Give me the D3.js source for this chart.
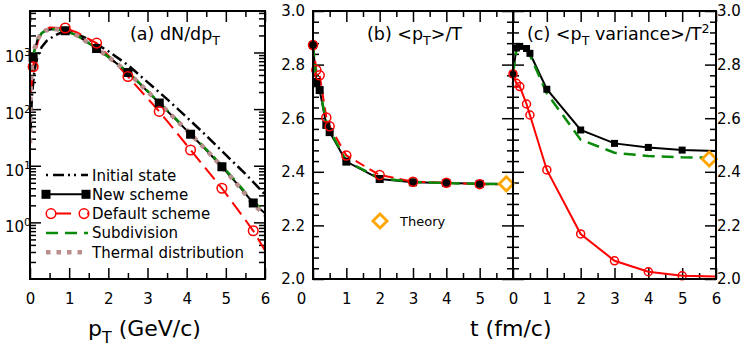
<!DOCTYPE html>
<html>
<head>
<meta charset="utf-8">
<script src="https://cdn.jsdelivr.net/npm/d3@7"></script>
<style>
  body { margin: 0; background: #fff; }
  svg { font-family: "DejaVu Sans", sans-serif; }
</style>
</head>
<body>
<div id="chart"></div>
<script>
  // ---- panel (a): dN/dpT spectra ----
  const ptInit = [0.01, 0.05, 0.1, 0.15, 0.2, 0.3, 0.43, 0.64, 0.8, 1.0, 1.2, 1.5, 2.0, 2.5, 3.0, 3.5, 4.0, 4.5, 5.0, 5.5, 6.0];
  const initState = [40, 170, 400, 650, 880, 1250, 1620, 2000, 2250, 2350, 2100, 1700, 1050, 600, 300, 150, 72, 34, 15.5, 7.2, 3.1];

  const ptNew = [0.08, 0.1, 0.2, 0.3, 0.4, 0.6, 0.9, 1.2, 1.7, 2.1, 2.5, 2.9, 3.3, 3.7, 4.1, 4.5, 4.9, 5.3, 5.7, 6.0];
  const newScheme = [820, 1000, 1750, 2200, 2450, 2600, 2420, 2000, 1175, 740, 444, 240, 128, 68, 36, 19, 9.6, 4.7, 2.2, 1.45];
  const subdivision = [800, 1000, 1750, 2200, 2450, 2600, 2430, 2000, 1190, 750, 450, 245, 130, 70, 37, 19.5, 10, 4.9, 2.3, 1.6];

  const ptDef = [0.02, 0.08, 0.15, 0.2, 0.3, 0.5, 0.9, 1.2, 1.7, 2.1, 2.5, 2.9, 3.3, 3.7, 4.1, 4.5, 4.9, 5.3, 5.7, 6.0];
  const defaultScheme = [200, 560, 1100, 1550, 2250, 2750, 2700, 2250, 1465, 745, 377, 185, 91, 42, 19, 8.7, 4, 1.7, 0.71, 0.32];

  const ptTherm = [0.002, 0.008, 0.02, 0.05, 0.1, 0.2, 0.3, 0.4, 0.6, 0.9, 1.2, 1.7, 2.1, 2.5, 2.9, 3.3, 3.7, 4.1, 4.5, 4.9, 5.3, 5.7, 6.0];
  const thermal = [25, 90, 280, 650, 1100, 1750, 2200, 2450, 2600, 2420, 2000, 1175, 740, 444, 240, 128, 68, 36, 19, 9.6, 4.6, 2.1, 1.35];

  // pT bins that carry a marker
  const markPt = [0.08, 0.9, 1.7, 2.5, 3.3, 4.1, 4.9, 5.7];

  // ---- panels (b) and (c): time evolution ----
  const tGrid = [0, 0.1, 0.2, 0.4, 0.5, 1, 2, 3, 4, 5, 6];
  const meanNew = [2.873, 2.735, 2.705, 2.575, 2.548, 2.438, 2.373, 2.361, 2.358, 2.355, 2.354];
  const meanDef = [2.873, 2.78, 2.76, 2.603, 2.57, 2.461, 2.388, 2.363, 2.359, 2.354, 2.353];
  const meanSub = [2.873, 2.75, 2.71, 2.585, 2.555, 2.44, 2.376, 2.362, 2.358, 2.355, 2.354];
  const varNew = [2.765, 2.862, 2.868, 2.86, 2.842, 2.708, 2.556, 2.506, 2.491, 2.481, 2.478];
  const varDef = [2.765, 2.73, 2.718, 2.653, 2.612, 2.407, 2.168, 2.068, 2.027, 2.012, 2.009];
  const varSub = [2.765, 2.855, 2.873, 2.86, 2.835, 2.693, 2.52, 2.471, 2.459, 2.454, 2.452];

  const theoryT = 5.8;
  const theoryMean = 2.355;
  const theoryVar = 2.448;

  const xTicks = [0, 1, 2, 3, 4, 5, 6];
  const xMinor = [0.5, 1.5, 2.5, 3.5, 4.5, 5.5];
  const yTicks = [2.0, 2.2, 2.4, 2.6, 2.8, 3.0];
  const logTicks = [1, 10, 100, 1000];

  const legendLabels = ["Initial state", "New scheme", "Default scheme", "Subdivision", "Thermal distribution"];

  // ---- layout ----
  const width = 747, height = 354;
  const yTop = 11, yBot = 279;
  const green = "#0a8a0a", rosy = "#bc8f8f", orange = "#ffa500";

  const xA = d3.scaleLinear().domain([0, 6]).range([30, 265]);
  const yA = d3.scaleLog().domain([0.1, 5400]).range([yBot, yTop]);
  const xB = d3.scaleLinear().domain([0, 6]).range([313, 513]);
  const xC = d3.scaleLinear().domain([0, 6]).range([513, 716]);
  const yV = d3.scaleLinear().domain([2.0, 3.0]).range([yBot, yTop]);

  const svg = d3.select("#chart").append("svg")
    .attr("width", width)
    .attr("height", height);

  const defs = svg.append("defs");
  [["clipA", xA], ["clipB", xB], ["clipC", xC]].forEach(([id, x]) => {
    defs.append("clipPath").attr("id", id).append("rect")
      .attr("x", x.range()[0]).attr("y", yTop)
      .attr("width", x.range()[1] - x.range()[0]).attr("height", yBot - yTop);
  });

  // draw an axis with inward ticks
  function axis(ax, tr, fontSize) {
    const g = svg.append("g").attr("transform", tr).call(ax);
    g.attr("font-family", null).attr("font-size", fontSize || 15);
    g.select(".domain").remove();
    g.selectAll(".tick line").attr("stroke", "#000").attr("stroke-width", 1.5);
    g.selectAll(".tick text").attr("fill", "#000");
    return g;
  }

  function frame(x, y) {
    svg.append("rect")
      .attr("x", x.range()[0]).attr("y", y.range()[1])
      .attr("width", x.range()[1] - x.range()[0])
      .attr("height", y.range()[0] - y.range()[1])
      .attr("fill", "none").attr("stroke", "#000").attr("stroke-width", 2);
  }

  function richText(x, y, parts, size) {
    const t = svg.append("text").attr("x", x).attr("y", y).attr("font-size", size);
    let shift = 0;
    parts.forEach(([s, mode]) => {
      const want = mode === "sub" ? size * 0.3 : mode === "sup" ? -size * 0.42 : 0;
      t.append("tspan")
        .attr("dy", want - shift)
        .attr("font-size", mode ? size * 0.72 : size)
        .text(s);
      shift = want;
    });
    return t;
  }

  // ---- axes panel (a) ----
  const logMinor = [];
  [0.1, 1, 10, 100, 1000].forEach(d => {
    for (let k = 2; k <= 9; k++) if (d * k < 5400) logMinor.push(d * k);
  });

  axis(d3.axisBottom(xA).tickValues(xTicks).tickSize(-11).tickPadding(14).tickFormat(d3.format("d")), `translate(0,${yBot})`);
  axis(d3.axisBottom(xA).tickValues(xMinor).tickSize(-6).tickFormat(""), `translate(0,${yBot})`);
  axis(d3.axisTop(xA).tickValues(xTicks).tickSize(-11).tickFormat(""), `translate(0,${yTop})`);
  axis(d3.axisTop(xA).tickValues(xMinor).tickSize(-6).tickFormat(""), `translate(0,${yTop})`);
  axis(d3.axisLeft(yA).tickValues(logTicks).tickSize(-11).tickFormat(""), `translate(${xA.range()[0]},0)`);
  axis(d3.axisLeft(yA).tickValues(logMinor).tickSize(-6).tickFormat(""), `translate(${xA.range()[0]},0)`);
  axis(d3.axisRight(yA).tickValues(logTicks).tickSize(-11).tickFormat(""), `translate(${xA.range()[1]},0)`);
  axis(d3.axisRight(yA).tickValues(logMinor).tickSize(-6).tickFormat(""), `translate(${xA.range()[1]},0)`);

  logTicks.forEach(v => {
    richText(5, yA(v) + 10, [["10"], [String(Math.round(Math.log10(v))), "sup"]], 15);
  });

  // ---- axes panels (b), (c) ----
  const vMinor = d3.range(2.0, 3.0001, 0.04).filter(v => Math.abs(v * 5 - Math.round(v * 5)) > 1e-6);
  [[xB, true], [xC, false]].forEach(([x, isB]) => {
    const gb = axis(d3.axisBottom(x).tickValues(isB ? xTicks.slice(0, 6) : xTicks).tickSize(-11).tickPadding(14).tickFormat(d3.format("d")), `translate(0,${yBot})`);
    if (isB) gb.selectAll(".tick text").filter(d => d === 0).attr("dx", -12);
    axis(d3.axisBottom(x).tickValues(xMinor).tickSize(-6).tickFormat(""), `translate(0,${yBot})`);
    axis(d3.axisTop(x).tickValues(xTicks).tickSize(-11).tickFormat(""), `translate(0,${yTop})`);
    axis(d3.axisTop(x).tickValues(xMinor).tickSize(-6).tickFormat(""), `translate(0,${yTop})`);
    axis(d3.axisLeft(yV).tickValues(yTicks).tickSize(-11).tickPadding(8).tickFormat(isB ? d3.format(".1f") : ""), `translate(${x.range()[0]},0)`);
    axis(d3.axisLeft(yV).tickValues(vMinor).tickSize(-6).tickFormat(""), `translate(${x.range()[0]},0)`);
    axis(d3.axisRight(yV).tickValues(yTicks).tickSize(-11).tickPadding(1).tickFormat(isB ? "" : d3.format(".1f")), `translate(${x.range()[1]},0)`);
    axis(d3.axisRight(yV).tickValues(vMinor).tickSize(-6).tickFormat(""), `translate(${x.range()[1]},0)`);
  });

  // ---- curves ----
  function curve(clip, xs, ys, x, y, style) {
    const pts = xs.map((d, i) => [d, ys[i]]);
    const line = d3.line().x(d => x(d[0])).y(d => y(d[1]));
    svg.append("path")
      .datum(pts)
      .attr("clip-path", `url(#${clip})`)
      .attr("d", line)
      .attr("fill", "none")
      .attr("stroke", style.color)
      .attr("stroke-width", style.width)
      .attr("stroke-dasharray", style.dash || null)
      .attr("stroke-linecap", style.cap || "butt");
  }

  function squares(xs, ys, x, y, size) {
    svg.append("g").selectAll("rect")
      .data(xs.map((d, i) => [d, ys[i]]))
      .join("rect")
      .attr("x", d => x(d[0]) - size / 2)
      .attr("y", d => y(d[1]) - size / 2)
      .attr("width", size).attr("height", size)
      .attr("fill", "#000");
  }

  function circles(xs, ys, x, y, r) {
    svg.append("g").selectAll("circle")
      .data(xs.map((d, i) => [d, ys[i]]))
      .join("circle")
      .attr("cx", d => x(d[0]))
      .attr("cy", d => y(d[1]))
      .attr("r", r)
      .attr("fill", "none")
      .attr("stroke", "red")
      .attr("stroke-width", 1.5);
  }

  function diamond(cx, cy) {
    svg.append("rect")
      .attr("x", -5).attr("y", -5).attr("width", 10).attr("height", 10)
      .attr("transform", `translate(${cx},${cy}) rotate(45)`)
      .attr("fill", "#fff").attr("stroke", orange).attr("stroke-width", 2.8);
  }

  const styles = {
    init: { color: "#000", width: 2.5, dash: "11,4,2,4" },
    newS: { color: "#000", width: 2 },
    def: { color: "red", width: 2, dash: "15,7" },
    sub: { color: green, width: 2.5, dash: "12,7" },
    therm: { color: rosy, width: 4.5, dash: "4.5,6" }
  };

  // panel (a)
  curve("clipA", ptInit, initState, xA, yA, styles.init);
  curve("clipA", ptDef, defaultScheme, xA, yA, styles.def);
  curve("clipA", ptNew, newScheme, xA, yA, styles.newS);
  curve("clipA", ptNew, subdivision, xA, yA, styles.sub);
  curve("clipA", ptTherm, thermal, xA, yA, styles.therm);
  const markNew = markPt.map(p => newScheme[ptNew.indexOf(p)]);
  const markDef = markPt.map(p => defaultScheme[ptDef.indexOf(p)]);
  squares(markPt, markNew, xA, yA, 9);
  circles(markPt, markDef, xA, yA, 4.8);

  // panel (b)
  const tMark = tGrid.filter(t => t < 6);
  curve("clipB", tGrid, meanNew, xB, yV, styles.newS);
  curve("clipB", tGrid, meanDef, xB, yV, { color: "red", width: 2, dash: "10,6" });
  curve("clipB", tGrid, meanSub, xB, yV, styles.sub);
  squares(tMark, meanNew, xB, yV, 8);
  circles(tMark, meanDef, xB, yV, 4.5);
  diamond(xB(theoryT), yV(theoryMean));

  // panel (c)
  curve("clipC", tGrid, varNew, xC, yV, styles.newS);
  curve("clipC", tGrid, varDef, xC, yV, { color: "red", width: 2 });
  curve("clipC", tGrid, varSub, xC, yV, styles.sub);
  squares(tMark, varNew, xC, yV, 7);
  circles(tMark, varDef, xC, yV, 4);
  diamond(xC(theoryT), yV(theoryVar));

  frame(xA, yA);
  frame(xB, yV);
  frame(xC, yV);

  // ---- legend panel (a) ----
  const legStyles = [styles.init, styles.newS, styles.def, styles.sub, styles.therm];
  legendLabels.forEach((label, i) => {
    const y = 175 + i * 19.3;
    const st = legStyles[i];
    svg.append("line")
      .attr("x1", 46).attr("x2", 88).attr("y1", y).attr("y2", y)
      .attr("stroke", st.color).attr("stroke-width", st.width)
      .attr("stroke-dasharray", i === 0 ? "2,5,11,4,2,4" : i === 2 ? "0,9,16,7" : st.dash || null);
    if (i === 1) squares([46, 86], [y, y], d => d, d => d, 9);
    if (i === 2) circles([51, 84], [y, y], d => d, d => d, 4.8);
    svg.append("text")
      .attr("x", 92).attr("y", y + 5.5)
      .attr("font-size", 15)
      .text(label);
  });

  // theory legend in (b)
  diamond(380, 221);
  svg.append("text").attr("x", 400).attr("y", 226).attr("font-size", 13).text("Theory");

  // ---- titles ----
  richText(130, 40, [["(a) dN/dp"], ["T", "sub"]], 17.5);
  richText(367, 40, [["(b) <p"], ["T", "sub"], [">/T"]], 17.5);
  richText(527, 40, [["(c) <p"], ["T", "sub"], [" variance>/T"], ["2", "sup"]], 17.5);

  richText(88, 336, [["p"], ["T", "sub"], [" (GeV/c)"]], 22);
  svg.append("text").attr("x", 470).attr("y", 336).attr("font-size", 22).text("t (fm/c)");
</script>
</body>
</html>
